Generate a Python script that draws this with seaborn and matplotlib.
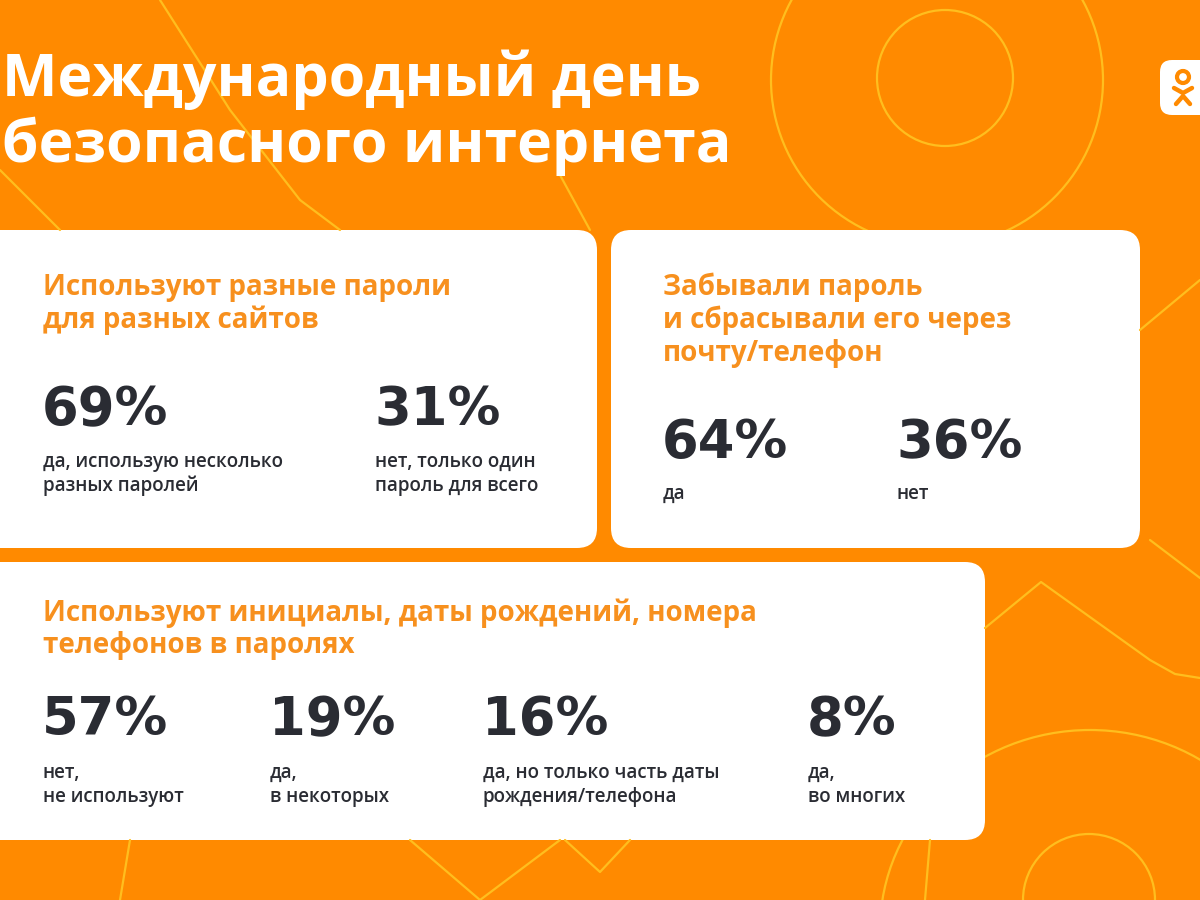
import matplotlib.pyplot as plt
import seaborn as sns
from matplotlib.patches import FancyBboxPatch, Circle, Arc

sns.set_theme(style='white')
plt.rcParams['font.family'] = ['Open Sans', 'DejaVu Sans']

# ---- data ----
title_lines = ['Международный день', 'безопасного интернета']

c1_heading = ['Используют разные пароли', 'для разных сайтов']
c1_values = [69, 31]
c1_labels = [['да, использую несколько', 'разных паролей'],
             ['нет, только один', 'пароль для всего']]

c2_heading = ['Забывали пароль', 'и сбрасывали его через', 'почту/телефон']
c2_values = [64, 36]
c2_labels = [['да'], ['нет']]

c3_heading = ['Используют инициалы, даты рождений, номера', 'телефонов в паролях']
c3_values = [57, 19, 16, 8]
c3_labels = [['нет,', 'не используют'],
             ['да,', 'в некоторых'],
             ['да, но только часть даты', 'рождения/телефона'],
             ['да,', 'во многих']]

# ---- style ----
bg = '#FF8A00'
deco = '#FFBE1E'
head_col = '#F7901E'
dark = '#2A2C33'

fig = plt.figure(figsize=(12, 9), dpi=100)
fig.patch.set_facecolor(bg)
ax = fig.add_axes([0, 0, 1, 1])
ax.set_facecolor(bg)
ax.set_xlim(0, 1200)
ax.set_ylim(900, 0)
ax.axis('off')

# background decoration
lw = 1.6
ax.add_patch(Circle((945, 78), 68, fill=False, ec=deco, lw=lw))
ax.add_patch(Circle((937, 80), 166, fill=False, ec=deco, lw=lw))
ax.add_patch(Circle((1089, 900), 66, fill=False, ec=deco, lw=lw))
ax.add_patch(Arc((1090, 930), 420, 400, theta1=180, theta2=360, ec=deco, lw=lw))
ax.plot([985, 1041, 1150, 1175, 1200], [628, 582, 660, 674, 678], color=deco, lw=lw)
ax.plot([1150, 1200], [540, 578], color=deco, lw=lw)
ax.plot([1140, 1200], [330, 280], color=deco, lw=lw)
ax.plot([160, 230, 300, 340], [0, 110, 200, 230], color=deco, lw=lw)
ax.plot([0, 60], [170, 230], color=deco, lw=lw)
ax.plot([410, 480, 560], [840, 900, 840], color=deco, lw=lw)
ax.plot([565, 600, 630], [840, 872, 840], color=deco, lw=lw)
ax.plot([130, 120], [840, 900], color=deco, lw=lw)
ax.plot([930, 925], [840, 900], color=deco, lw=lw)
ax.plot([560, 590], [175, 230], color=deco, lw=lw)

# title
for i, line in enumerate(title_lines):
    ax.text(2, 80 + i * 66, line, color='white', fontsize=42.5, fontweight='bold',
            va='center', ha='left')

# logo
ax.add_patch(FancyBboxPatch((1160, 60), 60, 55, boxstyle='round,pad=0,rounding_size=12',
                            fc='white', ec='none'))
ax.add_patch(Circle((1183, 77), 6, fill=False, ec=bg, lw=3))
ax.plot([1174, 1183, 1192], [88, 93, 88], color=bg, lw=3.2, solid_capstyle='round')
ax.plot([1176, 1183, 1190], [104, 96, 104], color=bg, lw=3.2, solid_capstyle='round')

# cards
cards = [(-30, 230, 627, 318), (611, 230, 529, 318), (-30, 562, 1015, 278)]
for x, y, w, h in cards:
    ax.add_patch(FancyBboxPatch((x, y), w, h, boxstyle='round,pad=0,rounding_size=20',
                                fc='white', ec='none'))


def block(heading, hx, hy, values, vxs, vy, labels, ly):
    for i, line in enumerate(heading):
        ax.text(hx, hy + i * 33, line, color=head_col, fontsize=20, fontweight='bold',
                va='center', ha='left')
    for v, vx, lab in zip(values, vxs, labels):
        ax.text(vx - 1, vy, f'{v}%', color=dark, fontsize=38, fontweight='bold',
                family='DejaVu Sans', va='center', ha='left')
        for j, line in enumerate(lab):
            ax.text(vx, ly + j * 24, line, color=dark, fontsize=13.5, fontweight='semibold',
                    va='center', ha='left')


block(c1_heading, 43, 287, c1_values, [43, 375], 410, c1_labels, 462)
block(c2_heading, 663, 287, c2_values, [663, 897], 443, c2_labels, 494)
block(c3_heading, 43, 613, c3_values, [43, 270, 483, 808], 720, c3_labels, 773)

fig.savefig('out.png', dpi=100, facecolor=bg)
